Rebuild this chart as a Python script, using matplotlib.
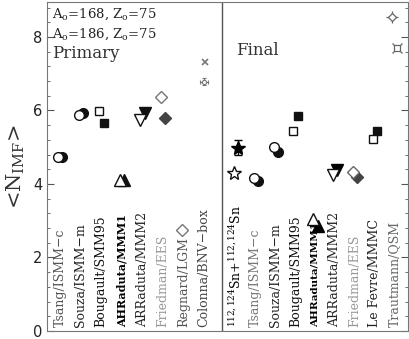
import numpy as np
import matplotlib
matplotlib.use("Agg")
import matplotlib.pyplot as plt

plt.rcParams['mathtext.fontset'] = 'dejavuserif'

# ---- data ----
left_labels = ["Tsang/ISMM\u2212c", "Souza/ISMM\u2212m", "Bougault/SMM95", "AHRaduta/MMM1",
               "ARRaduta/MMM2", "Friedman/EES", "Regnard/LGM", "Colonna/BNV\u2212box"]
left_open = [4.72, 5.88, 5.99, 4.12, 5.75, 6.37, 2.75, 6.78]     # A0=168
left_fill = [4.72, 5.93, 5.66, 4.10, 5.93, 5.80, np.nan, 7.32]  # A0=186

right_labels = ["$^{112,124}$Sn+$^{112,124}$Sn", "Tsang/ISMM\u2212c", "Souza/ISMM\u2212m",
                "Bougault/SMM95", "AHRaduta/MMM1", "ARRaduta/MMM2", "Friedman/EES",
                "Le Fevre/MMMC", "Trautmann/QSM"]
right_open = [4.30, 4.17, 5.01, 5.45, 3.04, 4.25, 4.33, 5.23, 8.54]
right_fill = [4.99, 4.09, 4.88, 5.85, 2.85, 4.37, 4.20, 5.45, 7.70]
exp_err = 0.2

yticks = [0, 2, 4, 6, 8]

# ---- styles ----
left_colors = ["#555555", "#222222", "#111111", "#000000", "#222222", "#999999", "#555555", "#444444"]
right_colors = ["#000000", "#777777", "#222222", "#111111", "#000000", "#222222", "#999999", "#222222", "#666666"]
left_weights = ["normal", "normal", "normal", "bold", "normal", "normal", "normal", "normal"]
left_sizes = [9, 9, 9, 8, 9, 9, 9, 9]
right_weights = ["normal", "normal", "normal", "normal", "bold", "normal", "normal", "normal", "normal"]
right_sizes = [9, 9, 9, 9, 7.5, 9, 9, 9, 9]
left_marks = ['o', 'o', 's', '^', 'v', 'D', 'D', None]
right_marks = ['*', 'o', 'o', 's', '^', 'v', 'D', 's', None]
mark_sizes = {'o': 7, 's': 6.2, '^': 8, 'v': 8, 'D': 5.8, '*': 10}

fig = plt.figure(figsize=(4.09, 3.39), dpi=100)
ax = fig.add_axes([47/409, 8/339, 361/409, 329/339])

unit = 20.0
lpos = np.arange(len(left_labels)) * 1.03
rpos = (236 - 60) / unit + np.arange(len(right_labels)) * 0.99
dx_o, dx_f = -0.1, 0.12

def draw(pos, opens, fills, marks, mcol, fcol):
    for i, (p, yo, yf, m) in enumerate(zip(pos, opens, fills, marks)):
        if m is None:
            continue
        ms = mark_sizes[m]
        if not np.isnan(yf):
            ax.plot(p + dx_f, yf, marker=m, ms=ms, mfc=fcol[i], mec=fcol[i], ls='none', zorder=3)
        ax.plot(p + dx_o, yo, marker=m, ms=ms, mfc='white', mec=mcol[i], mew=1.0, ls='none', zorder=4)

lmcol = ['#111111', '#111111', '#111111', '#111111', '#111111', '#777777', '#777777', '#777777']
lfcol = ['#111111', '#111111', '#111111', '#111111', '#111111', '#444444', '#444444', '#777777']
draw(lpos, left_open, left_fill, left_marks, lmcol, lfcol)

# Colonna special symbols
pc = lpos[7]
ax.plot(pc + 0.05, left_fill[7], marker='x', ms=5, mec='#777777', mew=1.2, ls='none')
ax.errorbar(pc, left_open[7], xerr=0.2, yerr=0.1, fmt='o', ms=3, mfc='white', mec='#777777',
            ecolor='#777777', elinewidth=0.9, capsize=1.5, mew=0.8)

rmcol = ['#111111', '#111111', '#111111', '#111111', '#111111', '#111111', '#666666', '#111111', '#666666']
rfcol = ['#000000', '#111111', '#111111', '#111111', '#000000', '#000000', '#444444', '#111111', '#666666']
draw(rpos, right_open, right_fill, right_marks, rmcol, rfcol)
ax.errorbar(rpos[0] + dx_f, right_fill[0], yerr=exp_err, fmt='none', ecolor='black',
            elinewidth=0.9, capsize=3, zorder=2)

# Trautmann special symbols
pt = rpos[8]
ax.plot(pt - 0.1, right_open[8], marker='D', ms=4.5, mfc='white', mec='#666666', mew=0.9, ls='none', zorder=4)
ax.plot(pt - 0.1, right_open[8], marker='+', ms=9, mec='#666666', mew=0.9, ls='none', zorder=3)
ax.plot(pt + 0.15, right_fill[8], marker='s', ms=4.5, mfc='white', mec='#666666', mew=0.9, ls='none', zorder=4)
ax.plot(pt + 0.15, right_fill[8], marker='x', ms=7, mec='#666666', mew=0.9, ls='none', zorder=3)

# labels
for p, lab, c, w, s in zip(lpos, left_labels, left_colors, left_weights, left_sizes):
    ax.text(p, 0.1, lab, rotation=90, ha='center', va='bottom', color=c, fontsize=s,
            family='DejaVu Serif', fontweight=w)
for p, lab, c, w, s in zip(rpos, right_labels, right_colors, right_weights, right_sizes):
    ax.text(p, 0.1, lab, rotation=90, ha='center', va='bottom', color=c, fontsize=s,
            family='DejaVu Serif', fontweight=w)

# divider
ax.axvline((222 - 60) / unit, color='#555555', lw=1.0)

# annotations
ax.text(0.015, 0.985, "A$_{\\rm o}$=168, Z$_{\\rm o}$=75", transform=ax.transAxes, ha='left', va='top',
        fontsize=9.5, family='DejaVu Serif', color='#222222')
ax.text(0.015, 0.925, "A$_{\\rm o}$=186, Z$_{\\rm o}$=75", transform=ax.transAxes, ha='left', va='top',
        fontsize=9.5, family='DejaVu Serif', color='#222222')
ax.text(0.015, 0.87, "Primary", transform=ax.transAxes, ha='left', va='top',
        fontsize=12, family='DejaVu Serif', color='#333333')
ax.text((236 - 60) / unit, 7.62, "Final", ha='left', va='center',
        fontsize=12, family='DejaVu Serif', color='#333333')

ax.set_xlim((47 - 60) / unit, (408 - 60) / unit)
ax.set_ylim(0, 8.95)
ax.set_xticks([])
ax.set_yticks(yticks)
ax.set_yticks(np.arange(0, 9.0, 0.4), minor=True)
ax.tick_params(axis='y', which='both', direction='in', left=True, right=True, colors='#555555',
               labelcolor='#222222', labelsize=10.5)
ax.tick_params(axis='y', which='major', length=5)
ax.tick_params(axis='y', which='minor', length=2.5)
for s in ax.spines.values():
    s.set_color('#777777')
ax.set_ylabel("<N$_{\\rm IMF}$>", fontsize=15, family='DejaVu Serif', color='#333333', labelpad=4)

fig.savefig("out.png", dpi=100)
